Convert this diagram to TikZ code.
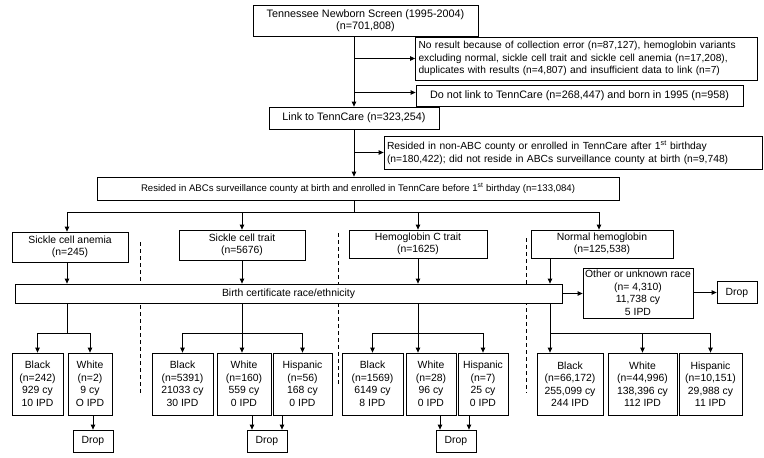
\documentclass[tikz,border=0pt]{standalone}
\usepackage{fontspec}
\setmainfont{Liberation Sans}
\usetikzlibrary{arrows.meta}

\tikzset{
  box/.style={draw, fill=white, line width=0.8pt, inner sep=1pt, align=center,
    font=\fontsize{10.4}{12.5}\selectfont},
  bigbox/.style={box, font=\fontsize{10.8}{12.5}\selectfont},
  leftbox/.style={box, align=left, inner sep=3pt},
  racebox/.style={box, minimum height=62pt},
  dropbox/.style={box, minimum width=40pt, minimum height=22pt},
  arr/.style={line width=0.8pt, -{Triangle[length=5pt,width=4.5pt]}},
  link/.style={line width=0.8pt},
  sep/.style={line width=0.8pt, dash pattern=on 4pt off 3pt}
}

\begin{document}
\begin{tikzpicture}[x=1pt,y=-1pt]
  \useasboundingbox (0,0) rectangle (764,458);
  \draw[sep] (140,242) -- (140,393)
             (338,233) -- (338,386)
             (526,238) -- (526,393);

  \node[bigbox, minimum width=225pt, minimum height=31pt] (screen) at (365.5,20.5)
    {Tennessee Newborn Screen (1995-2004)\\(n=701,808)};
  \node[leftbox, font=\fontsize{10.2}{12.5}\selectfont, text width=336pt, minimum height=43pt] (noresult) at (586.5,58.5)
    {No result because of collection error (n=87,127), hemoglobin variants\\
     excluding normal, sickle cell trait and sickle cell anemia (n=17,208),\\
     duplicates with results (n=4,807) and insufficient data to link (n=7)};
  \node[bigbox, minimum width=327pt, minimum height=21pt] (nolink) at (579.5,95.5)
    {Do not link to TennCare (n=268,447) and born in 1995 (n=958)};
  \node[bigbox, minimum width=170pt, minimum height=22pt] (tenncare) at (354,118)
    {Link to TennCare (n=323,254)};
  \node[leftbox, font=\fontsize{10.3}{13}\selectfont, text width=372pt, minimum height=33pt] (nonabc) at (573,152.5)
    {Resided in non-ABC county or enrolled in TennCare after 1\textsuperscript{st} birthday\\
     (n=180,422); did not reside in ABCs surveillance county at birth (n=9,748)};
  \node[box, font=\fontsize{9.6}{12}\selectfont, minimum width=522pt, minimum height=23pt] (abcs) at (358,188.5)
    {Resided in ABCs surveillance county at birth and enrolled in TennCare before 1\textsuperscript{st} birthday (n=133,084)};

  \node[box, minimum width=116pt, minimum height=30pt] (anemia) at (70,247)
    {Sickle cell anemia\\(n=245)};
  \node[box, minimum width=126pt, minimum height=30pt] (trait) at (242,245)
    {Sickle cell trait\\(n=5676)};
  \node[box, minimum width=138pt, minimum height=28pt] (hbc) at (418,244)
    {Hemoglobin C trait\\(n=1625)};
  \node[box, minimum width=142pt, minimum height=28pt] (normal) at (602,244)
    {Normal hemoglobin\\(n=125,538)};

  \node[box, minimum width=547pt, minimum height=19pt] (bar) at (288.5,293.5)
    {Birth certificate race/ethnicity};
  \node[box, minimum width=110pt, minimum height=50pt] (other) at (638,293)
    {Other or unknown race\\(n= 4,310)\\11,738 cy\\5 IPD};
  \node[dropbox] (drop0) at (737,292.5) {Drop};

  \node[racebox, minimum width=51pt] (a1) at (37.5,384) {Black\\(n=242)\\929 cy\\10 IPD};
  \node[racebox, minimum width=44pt] (a2) at (90,384) {White\\(n=2)\\9 cy\\O IPD};
  \node[racebox, minimum width=61pt] (t1) at (182.5,384) {Black\\(n=5391)\\21033 cy\\30 IPD};
  \node[racebox, minimum width=54pt] (t2) at (244,384) {White\\(n=160)\\559 cy\\0 IPD};
  \node[racebox, minimum width=59pt] (t3) at (302.5,384) {Hispanic\\(n=56)\\168 cy\\0 IPD};
  \node[racebox, minimum width=61pt] (h1) at (372.5,384) {Black\\(n=1569)\\6149 cy\\8 IPD};
  \node[racebox, minimum width=50pt] (h2) at (431,384) {White\\(n=28)\\96 cy\\0 IPD};
  \node[racebox, minimum width=50pt] (h3) at (483,384) {Hispanic\\(n=7)\\25 cy\\0 IPD};
  \node[racebox, minimum width=66pt] (n1) at (570,384) {Black\\(n=66,172)\\255,099 cy\\244 IPD};
  \node[racebox, minimum width=69pt] (n2) at (642.5,384) {White\\(n=44,996)\\138,396 cy\\112 IPD};
  \node[racebox, minimum width=63pt] (n3) at (710.5,384) {Hispanic\\(n=10,151)\\29,988 cy\\11 IPD};

  \node[dropbox] (drop1) at (93,441) {Drop};
  \node[dropbox] (drop2) at (267,441) {Drop};
  \node[dropbox] (drop3) at (456,441) {Drop};

  \coordinate (fork) at (354,212);
  \coordinate (ga) at (67,333);
  \coordinate (gt) at (242,333);
  \coordinate (gh) at (418,333);
  \coordinate (gn) at (550,333);

  \draw[arr] (tenncare.north |- screen.south) -- (tenncare.north);
  \draw[arr] (tenncare.north |- noresult.west) -- (noresult.west);
  \draw[arr] ([yshift=3pt]tenncare.north |- nolink.west) -- ([yshift=3pt]nolink.west);
  \draw[arr] (tenncare.south) -- (tenncare.south |- abcs.north);
  \draw[arr] (tenncare.south |- nonabc.west) -- (nonabc.west);

  \draw[link] (fork |- abcs.south) -- (fork);
  \draw[arr] (fork) -| ([xshift=-3pt]anemia.north);
  \draw[arr] (fork) -| (trait.north);
  \draw[arr] (fork) -| (hbc.north);
  \draw[arr] (fork) -| ([xshift=-3pt]normal.north);

  \draw[arr] ([xshift=-3pt]anemia.south) -- ([xshift=-3pt]anemia.south |- bar.north);
  \draw[arr] (trait.south) -- (trait.south |- bar.north);
  \draw[arr] (hbc.south) -- (hbc.south |- bar.north);
  \draw[arr] (gn |- normal.south) -- (gn |- bar.north);

  \draw[arr] (bar.east) -- (bar.east -| other.west);
  \draw[arr] (other.east |- drop0.west) -- (drop0.west);

  \draw[link] (ga |- bar.south) -- (ga)
              (gt |- bar.south) -- (gt)
              (gh |- bar.south) -- (gh)
              (gn |- bar.south) -- (gn);
  \draw[arr] (ga) -| (a1.north);
  \draw[arr] (ga) -| (a2.north);
  \draw[arr] (gt) -| (t1.north);
  \draw[arr] (gt) -- (gt |- t2.north);
  \draw[arr] (gt) -| (t3.north);
  \draw[arr] (gh) -| (h1.north);
  \draw[arr] (gh) -- (gh |- h2.north);
  \draw[arr] (gh) -| (h3.north);
  \draw[arr] (gn) -- (gn |- n1.north);
  \draw[arr] (gn) -| (n2.north);
  \draw[arr] (gn) -| (n3.north);

  \draw[arr] (drop1.north |- a2.south) -- (drop1.north);
  \draw[arr] ([xshift=-15pt]drop2.north |- t2.south) -- ([xshift=-15pt]drop2.north);
  \draw[arr] ([xshift=15pt]drop2.north |- t3.south) -- ([xshift=15pt]drop2.north);
  \draw[arr] ([xshift=-16pt]drop3.north |- h2.south) -- ([xshift=-16pt]drop3.north);
  \draw[arr] ([xshift=13pt]drop3.north |- h3.south) -- ([xshift=13pt]drop3.north);
\end{tikzpicture}
\end{document}
